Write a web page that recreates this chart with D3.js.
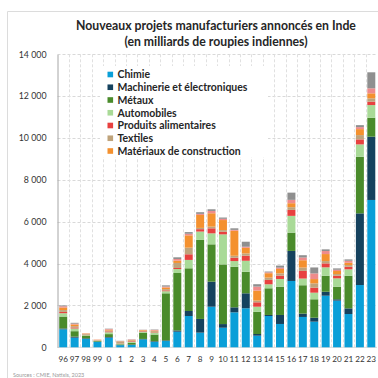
<!DOCTYPE html>
<html><head><meta charset="utf-8">
<script src="https://cdn.jsdelivr.net/npm/d3@7"></script>
<style>body{margin:0;background:#fff}svg{display:block}</style>
</head><body>
<svg id="c" width="378" height="378"></svg>
<script>
const categories = ["96","97","98","99","0","1","2","3","4","5","6","7","8","9","10","11","12","13","14","15","16","17","18","19","20","21","22","23"];
const chimie     = [860,460,400,260,460,100,110,380,260,300,745,1495,700,1940,935,1670,1865,555,1495,1115,3170,1450,1225,2465,2230,1590,2975,7040];
const machinerie = [40,50,30,10,30,15,20,20,30,30,60,240,655,1195,175,240,715,80,50,430,1435,160,190,190,65,270,3425,3025];
const metaux     = [570,260,110,30,140,30,90,300,320,2250,2745,2040,3775,1785,2850,1940,1030,1065,1275,1350,875,1355,880,765,600,1560,2705,905];
const automobiles= [160,130,40,20,90,40,40,30,100,100,190,400,400,525,1435,270,525,240,190,370,800,320,315,400,400,305,590,605];
const alimentaires=[60,50,20,10,40,15,30,30,20,40,50,270,115,240,125,160,240,210,210,160,285,365,240,190,125,125,240,160];
const textiles   = [90,60,40,15,40,60,40,30,40,60,240,315,60,80,80,95,110,80,110,110,130,160,205,110,80,80,205,160];
const materiaux  = [120,80,20,15,40,20,20,30,30,80,110,590,620,640,480,1195,270,480,210,210,190,350,205,335,145,110,285,240];
const autres1    = [60,40,10,10,30,10,20,10,30,40,80,75,50,110,60,40,50,190,40,60,160,130,270,145,60,95,95,240];
const autres2    = [40,40,0,0,20,20,10,10,20,60,80,80,80,80,60,75,240,115,40,100,345,110,285,80,65,65,95,765];

const seriesNames = ["Chimie","Machinerie et électroniques","Métaux","Automobiles","Produits alimentaires","Textiles","Matériaux de construction","Autres 1","Autres 2"];
const seriesValues = [chimie,machinerie,metaux,automobiles,alimentaires,textiles,materiaux,autres1,autres2];
const seriesColors = ["#0A9FD8","#15425E","#4A8B2B","#A9DA97","#E8413F","#BFA37B","#F4912F","#EF8B8B","#8F8F8F"];
const legendCount = 7;
const yTicks = [0,2000,4000,6000,8000,10000,12000,14000];
const titleLines = ["Nouveaux projets manufacturiers annoncés en Inde","(en milliards de roupies indiennes)"];
const sourceText = "Sources : CMIE, Natixis, 2023";

const FONT = "Lato, 'Noto Sans', sans-serif";
const svg = d3.select("#c");

// frame
svg.append("path").attr("d","M7.5,378V11.5H378").attr("fill","none").attr("stroke","#dcdcdc");

const x = d3.scaleBand().domain(categories).range([57.5,377]).paddingInner(0.3).paddingOuter(0.15);
const y = d3.scaleLinear().domain([0,14000]).range([347.3,54.3]);
const step = x.step();

// grid
const grid = svg.append("g");
grid.selectAll("line.h").data(yTicks.filter(d=>d>0)).join("line")
  .attr("x1",57.5).attr("x2",377).attr("y1",d=>Math.round(y(d))+0.5).attr("y2",d=>Math.round(y(d))+0.5)
  .attr("stroke","#d9d9d9").attr("stroke-dasharray","3,2");
grid.selectAll("line.v").data(d3.range(1,categories.length)).join("line")
  .attr("x1",k=>Math.round(57.5+k*step)+0.5).attr("x2",k=>Math.round(57.5+k*step)+0.5)
  .attr("y1",y(14000)).attr("y2",y(0))
  .attr("stroke","#e0e0e0").attr("stroke-dasharray","3,2");
grid.append("line").attr("x1",57.5).attr("x2",377).attr("y1",y(0)).attr("y2",y(0)).attr("stroke","#d9d9d9");

// stacked bars
const table = categories.map((c,i)=>{const o={cat:c};seriesNames.forEach((n,j)=>o[n]=seriesValues[j][i]);return o;});
const stacked = d3.stack().keys(seriesNames)(table);
svg.append("g").selectAll("g").data(stacked).join("g")
  .attr("fill",(d,i)=>seriesColors[i])
  .selectAll("rect").data(d=>d).join("rect")
  .attr("x",d=>x(d.data.cat)).attr("width",x.bandwidth())
  .attr("y",d=>y(d[1])).attr("height",d=>Math.max(0,y(d[0])-y(d[1])));

// axes
const loc = d3.formatLocale({decimal:",",thousands:" ",grouping:[3],currency:["","€"]});
const fmtY = loc.format(",");
const yAxis = svg.append("g").attr("transform","translate(57.5,0)")
  .call(d3.axisLeft(y).tickValues(yTicks).tickFormat(fmtY).tickSize(0).tickPadding(11));
yAxis.select(".domain").attr("stroke","#a6a6a6");
yAxis.selectAll("text").attr("font-family",FONT).attr("font-size",8.8).attr("fill","#333");

const xAxis = svg.append("g").attr("transform",`translate(0,${y(0)})`)
  .call(d3.axisBottom(x).tickSize(0).tickPadding(9.2));
xAxis.select(".domain").remove();
xAxis.selectAll("text").attr("font-family",FONT).attr("font-size",8.2).attr("fill","#333");

// title
function fitSize(sel, target, base){ sel.attr("font-size",base); const w=sel.node().getComputedTextLength(); return base*target/w; }
const t1 = svg.append("text").attr("x",216).attr("y",29.5).attr("text-anchor","middle")
  .attr("font-family",FONT).attr("font-weight","bold").attr("fill","#262626").text(titleLines[0]);
const ts = fitSize(t1,280,12);
t1.attr("font-size",ts);
svg.append("text").attr("x",216).attr("y",46).attr("text-anchor","middle")
  .attr("font-family",FONT).attr("font-weight","bold").attr("fill","#262626").attr("font-size",ts).text(titleLines[1]);

// legend
const lg = svg.append("g");
lg.append("rect").attr("x",100).attr("y",66).attr("width",168).attr("height",91).attr("fill","#fff");
const items = lg.selectAll("g.it").data(seriesNames.slice(0,legendCount)).join("g")
  .attr("transform",(d,i)=>`translate(107.5,${74.5+i*12.75})`);
items.append("rect").attr("x",0).attr("y",-2.8).attr("width",5.6).attr("height",5.6).attr("fill",(d,i)=>seriesColors[i]);
const lt = items.append("text").attr("x",10).attr("y",3.8).attr("font-family",FONT).attr("font-weight","bold")
  .attr("fill","#262626").text(d=>d);
const ls = fitSize(d3.select(lt.nodes()[1]),130,11);
lt.attr("font-size",ls);

// source
svg.append("text").attr("x",13).attr("y",376.5).attr("font-family",FONT).attr("font-size",5.5)
  .attr("fill","#999").text(sourceText);
</script>
</body></html>
